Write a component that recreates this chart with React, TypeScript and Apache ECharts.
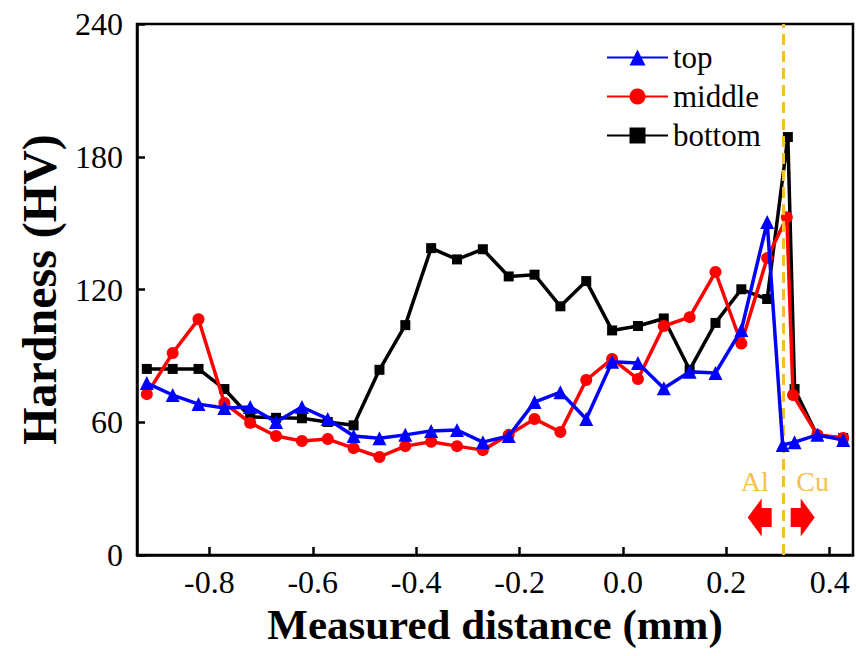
import React, { useEffect, useRef } from "react";
import * as echarts from "echarts";

const FONT = "'Liberation Serif', 'Times New Roman', serif";

const xTicks = [-0.8, -0.6, -0.4, -0.2, 0.0, 0.2, 0.4];
const yTicks = [0, 60, 120, 180, 240];

const regularX = [
  -0.921, -0.871, -0.821, -0.771, -0.721, -0.671, -0.621, -0.571, -0.521,
  -0.471, -0.421, -0.371, -0.321, -0.271, -0.221, -0.171, -0.121, -0.071,
  -0.021, 0.029, 0.079, 0.129, 0.179, 0.229, 0.279,
];

const topX = [...regularX, 0.309, 0.332, 0.376, 0.426];
const topHV = [
  77.7, 72.3, 68.2, 66.4, 66.9, 60.1, 66.9, 61.5, 53.8, 52.8, 54.3, 56.1, 56.5,
  51.0, 53.8, 69.1, 73.6, 61.5, 87.3, 86.8, 75.4, 82.8, 82.3, 101.7, 150.5,
  49.7, 51.0, 54.3, 52.0,
];

const middleX = [...regularX, 0.317, 0.329, 0.376, 0.426];
const middleHV = [
  72.7, 91.3, 106.6, 68.7, 59.7, 53.8, 51.5, 52.4, 48.3, 44.3, 49.2, 51.2, 49.2,
  47.4, 54.3, 61.5, 55.6, 79.1, 88.6, 79.5, 103.5, 107.5, 127.9, 95.6, 134.2,
  152.7, 72.3, 54.3, 52.9,
];

const bottomX = [...regularX, 0.319, 0.332, 0.376, 0.426];
const bottomHV = [
  84.1, 84.1, 84.1, 75.0, 62.4, 62.0, 61.8, 60.1, 58.6, 83.7, 103.9, 138.7,
  133.6, 138.2, 125.9, 126.7, 112.4, 123.8, 101.5, 103.5, 106.9, 83.7, 104.9,
  120.1, 115.7, 188.9, 75.0, 53.9, 52.9,
];

const interfaceX = 0.309;
const arrowY = 17;
const labelY = 33;

const pairs = (xs: number[], ys: number[]) => xs.map((x, i) => [x, ys[i]]);

export default function App() {
  const ref = useRef<HTMLDivElement>(null);

  useEffect(() => {
    document.body.style.margin = "0";
    if (!ref.current) return;
    const chart = echarts.init(ref.current, undefined, { renderer: "svg" });

    const option: any = {
      animation: false,
      backgroundColor: "#ffffff",
      grid: {
        left: 137,
        right: 3,
        top: 24,
        bottom: 101,
        show: true,
        borderColor: "#000",
        borderWidth: 2.5,
        backgroundColor: "transparent",
      },
      xAxis: {
        type: "value",
        min: -0.94,
        max: 0.445,
        axisLine: { show: true, onZero: false, lineStyle: { color: "#000", width: 2.5 } },
        axisTick: {
          show: true,
          inside: true,
          length: 8,
          customValues: xTicks,
          lineStyle: { color: "#000", width: 2.5 },
        },
        axisLabel: {
          customValues: xTicks,
          formatter: (v: number) => v.toFixed(1),
          fontFamily: FONT,
          fontSize: 32,
          color: "#000",
          margin: 11,
        },
        splitLine: { show: false },
        name: "Measured distance (mm)",
        nameLocation: "middle",
        nameGap: 44,
        nameTextStyle: { fontFamily: FONT, fontSize: 43, fontWeight: "bold", color: "#000" },
      },
      yAxis: {
        type: "value",
        min: yTicks[0],
        max: yTicks[yTicks.length - 1],
        interval: 60,
        axisLine: { show: true, onZero: false, lineStyle: { color: "#000", width: 2.5 } },
        axisTick: { show: true, inside: true, length: 8, lineStyle: { color: "#000", width: 2.5 } },
        axisLabel: { fontFamily: FONT, fontSize: 32, color: "#000", margin: 14 },
        splitLine: { show: false },
        name: "Hardness (HV)",
        nameLocation: "middle",
        nameRotate: 90,
        nameGap: 74,
        nameTextStyle: { fontFamily: FONT, fontSize: 48, fontWeight: "bold", color: "#000" },
      },
      legend: {
        data: ["top", "middle", "bottom"],
        orient: "vertical",
        left: 606,
        top: 42,
        padding: 0,
        itemWidth: 61,
        itemHeight: 20,
        itemGap: 8,
        textStyle: { fontFamily: FONT, fontSize: 31, color: "#000", lineHeight: 31 },
      },
      series: [
        {
          name: "bottom",
          type: "line",
          data: pairs(bottomX, bottomHV),
          symbol: "rect",
          symbolSize: 10,
          itemStyle: { color: "#000000" },
          lineStyle: { color: "#000000", width: 3.5 },
          z: 3,
          markLine: {
            silent: true,
            symbol: "none",
            label: { show: false },
            lineStyle: { color: "#F7BE2A", width: 3, type: [11, 6] },
            data: [{ xAxis: interfaceX }],
          },
        },
        {
          name: "middle",
          type: "line",
          data: pairs(middleX, middleHV),
          symbol: "circle",
          symbolSize: 12,
          itemStyle: { color: "#FF0000" },
          lineStyle: { color: "#FF0000", width: 3.5 },
          z: 4,
        },
        {
          name: "top",
          type: "line",
          data: pairs(topX, topHV),
          symbol: "triangle",
          symbolSize: 14,
          itemStyle: { color: "#0000FF" },
          lineStyle: { color: "#0000FF", width: 3.5 },
          z: 5,
        },
      ],
    };

    chart.setOption(option);

    const px = chart.convertToPixel({ xAxisIndex: 0 }, interfaceX) as number;
    const py = chart.convertToPixel({ yAxisIndex: 0 }, arrowY) as number;
    const ly = chart.convertToPixel({ yAxisIndex: 0 }, labelY) as number;

    const leftArrow = [
      [px - 35, py],
      [px - 21, py - 19],
      [px - 21, py - 9.5],
      [px - 11, py - 9.5],
      [px - 11, py + 9.5],
      [px - 21, py + 9.5],
      [px - 21, py + 19],
    ];
    const rightArrow = [
      [px + 32, py],
      [px + 18, py - 19],
      [px + 18, py - 9.5],
      [px + 8, py - 9.5],
      [px + 8, py + 9.5],
      [px + 18, py + 9.5],
      [px + 18, py + 19],
    ];

    chart.setOption({
      graphic: [
        { type: "polygon", shape: { points: leftArrow }, style: { fill: "#FF0000" }, z: 10 },
        { type: "polygon", shape: { points: rightArrow }, style: { fill: "#FF0000" }, z: 10 },
        {
          type: "text",
          x: px - 28,
          y: ly,
          style: {
            text: "Al",
            fontFamily: FONT,
            fontSize: 28,
            fill: "#F5C24A",
            align: "center",
            verticalAlign: "middle",
          },
          z: 10,
        },
        {
          type: "text",
          x: px + 30,
          y: ly,
          style: {
            text: "Cu",
            fontFamily: FONT,
            fontSize: 28,
            fill: "#F5C24A",
            align: "center",
            verticalAlign: "middle",
          },
          z: 10,
        },
      ],
    });

    return () => chart.dispose();
  }, []);

  return <div ref={ref} style={{ width: 856, height: 656 }} />;
}
